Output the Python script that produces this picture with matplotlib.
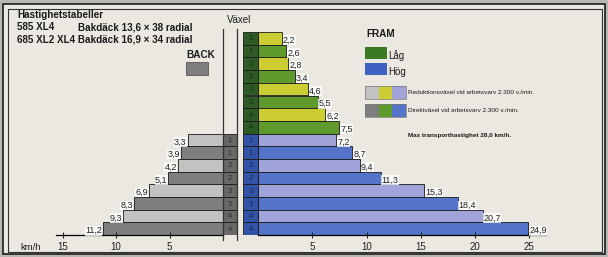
import matplotlib.pyplot as plt
from matplotlib.patches import Rectangle

plt.rcParams['font.family'] = ['Liberation Sans', 'DejaVu Sans']

# data
gears = [1, 1, 2, 2, 3, 3, 4, 4]
lag = [2.2, 2.6, 2.8, 3.4, 4.6, 5.5, 6.2, 7.5]
hog = [7.2, 8.7, 9.4, 11.3, 15.3, 18.4, 20.7, 24.9]
back = [3.3, 3.9, 4.2, 5.1, 6.9, 8.3, 9.3, 11.2]
fwd_ticks = [5, 10, 15, 20, 25]
back_ticks = [5, 10, 15]

BG = '#ebe8e2'
RED_Y, DIR_G, CELL_G = '#cccc33', '#5e9b2c', '#2e5a26'
RED_B, DIR_B, CELL_B = '#a0a4d8', '#5374c8', '#3253a8'
RED_K, DIR_K, CELL_K = '#c2c2c2', '#7e7e7e', '#686868'

W, H = 608, 257
fig = plt.figure(figsize=(W / 100, H / 100), dpi=100, facecolor='#b8b6b2')

def fx(px):
    return px / W

def fy(py):
    return 1 - py / H

# frame (behind the axes)
fig.add_artist(Rectangle((fx(3), fy(254)), fx(602), 250 / H, transform=fig.transFigure,
                         facecolor=BG, edgecolor='#1a1a1a', lw=1.2, zorder=-10))
fig.add_artist(Rectangle((fx(8), fy(252)), fx(594), 243 / H, transform=fig.transFigure,
                         facecolor='none', edgecolor='#333333', lw=0.8, zorder=-9))

row_h = 12.7
top = 32
bot = top + 16 * row_h

# forward axes: zero at 258 px, 10.85 px per km/h
f0, fs = 258, 10.85
fxmin, fxmax = -1.35, 26.5
axf = fig.add_axes([fx(f0 + fxmin * fs), fy(bot), (fxmax - fxmin) * fs / W, 16 * row_h / H])
# back axes: zero at 223 px, 10.7 px per km/h
b0, bs = 223, 10.7
bxmin, bxmax = -1.3, 15.6
axb = fig.add_axes([fx(b0 - bxmax * bs), fy(bot), (bxmax - bxmin) * bs / W, 16 * row_h / H])

for ax in (axf, axb):
    ax.set_facecolor('none')
    ax.set_ylim(15.5, -0.5)
    for s in ('top', 'right', 'left'):
        ax.spines[s].set_visible(False)
    ax.spines['bottom'].set_linewidth(0.9)
    ax.set_yticks([])
    ax.tick_params(axis='x', direction='inout', length=4, width=0.8, labelsize=7,
                   pad=3, colors='#222222')

axf.set_xlim(fxmin, fxmax)
axb.set_xlim(bxmax, bxmin)
axf.spines['bottom'].set_bounds(0, fxmax)
axb.spines['bottom'].set_bounds(0, bxmax)
axf.set_xticks(fwd_ticks)
axb.set_xticks(back_ticks)

rows_lag = list(range(8))
rows_hog = list(range(8, 16))
lab_kw = dict(fontsize=6.5, color='#222222', va='center',
              bbox=dict(facecolor='white', edgecolor='none', pad=0.2, alpha=0.8))

def draw_side(ax, rows, vals, c_red, c_dir, c_cell, cell_w, sign):
    cols = [c_red if i % 2 == 0 else c_dir for i in range(len(vals))]
    ax.barh(rows, vals, height=1.0, color=cols, edgecolor='#1a1a1a', lw=0.6)
    ax.barh(rows, [cell_w] * len(rows), left=-cell_w, height=1.0, color=c_cell,
            edgecolor='#1a1a1a', lw=0.6)
    for r, v, g in zip(rows, vals, gears):
        ax.text(-cell_w / 2, r + 0.05, str(g), fontsize=5.5, color='#1c1c1c',
                ha='center', va='center', alpha=0.75)
        ax.text(v + 0.1, r + 0.15, f'{v:.1f}'.replace('.', ','),
                ha='left' if sign > 0 else 'right', **lab_kw)

draw_side(axf, rows_lag, lag, RED_Y, DIR_G, CELL_G, -fxmin, 1)
draw_side(axf, rows_hog, hog, RED_B, DIR_B, CELL_B, -fxmin, 1)
draw_side(axb, rows_hog, back, RED_K, DIR_K, CELL_K, -bxmin, -1)

# vertical divider lines
for xv in (0, bxmin):
    axb.plot([xv, xv], [-0.7, 15.9], color='#333333', lw=0.9, clip_on=False)

# texts
tk = dict(transform=fig.transFigure, color='#1a1a1a')
fs_t = 7.1
fig.text(fx(17), fy(15), 'Hastighetstabeller', fontsize=fs_t, weight='bold', va='center', **tk)
fig.text(fx(17), fy(27), '585 XL4', fontsize=fs_t, weight='bold', va='center', **tk)
fig.text(fx(78), fy(27), 'Bakdäck 13,6 × 38 radial', fontsize=fs_t, weight='bold', va='center', **tk)
fig.text(fx(17), fy(39), '685 XL2 XL4 Bakdäck 16,9 × 34 radial', fontsize=fs_t, weight='bold',
         va='center', **tk)
fig.text(fx(186), fy(55), 'BACK', fontsize=7.2, weight='bold', va='center', **tk)
fig.add_artist(Rectangle((fx(186), fy(75)), 22 / W, 13 / H, transform=fig.transFigure,
                         facecolor=DIR_K, edgecolor='#444444', lw=0.5))
fig.text(fx(227), fy(20), 'Växel', fontsize=7, va='center', **tk)

fig.text(fx(366), fy(34), 'FRAM', fontsize=7.2, weight='bold', va='center', **tk)
fig.add_artist(Rectangle((fx(365), fy(59)), 22 / W, 12 / H, transform=fig.transFigure,
                         facecolor='#3a7a24', edgecolor='none'))
fig.text(fx(388), fy(56), 'Låg', fontsize=7, va='center', **tk)
fig.add_artist(Rectangle((fx(365), fy(75)), 22 / W, 12 / H, transform=fig.transFigure,
                         facecolor='#3d62c2', edgecolor='none'))
fig.text(fx(388), fy(72), 'Hög', fontsize=7, va='center', **tk)

for yy, cols, txt in [(99, [RED_K, RED_Y, RED_B], 'Reduktionsväxel vid arbetsvarv 2.300 v./min.'),
                      (117, [DIR_K, DIR_G, DIR_B], 'Direktväxel vid arbetsvarv 2.300 v./min.')]:
    for k, c in enumerate(cols):
        fig.add_artist(Rectangle((fx(365 + k * 13.5), fy(yy)), 13.5 / W, 13 / H,
                                 transform=fig.transFigure, facecolor=c, edgecolor='none'))
    fig.add_artist(Rectangle((fx(365), fy(yy)), 40.5 / W, 13 / H, transform=fig.transFigure,
                             facecolor='none', edgecolor='#777777', lw=0.5))
    fig.text(fx(408), fy(yy - 6.5), txt, fontsize=4.6, va='center', **tk)

fig.text(fx(408), fy(135), 'Max transporthastighet 28,0 km/h.', fontsize=4.6, weight='bold',
         va='center', **tk)
fig.text(fx(20), fy(247), 'km/h', fontsize=6.8, va='center', **tk)

fig.savefig('out.png', dpi=100, facecolor=fig.get_facecolor())
